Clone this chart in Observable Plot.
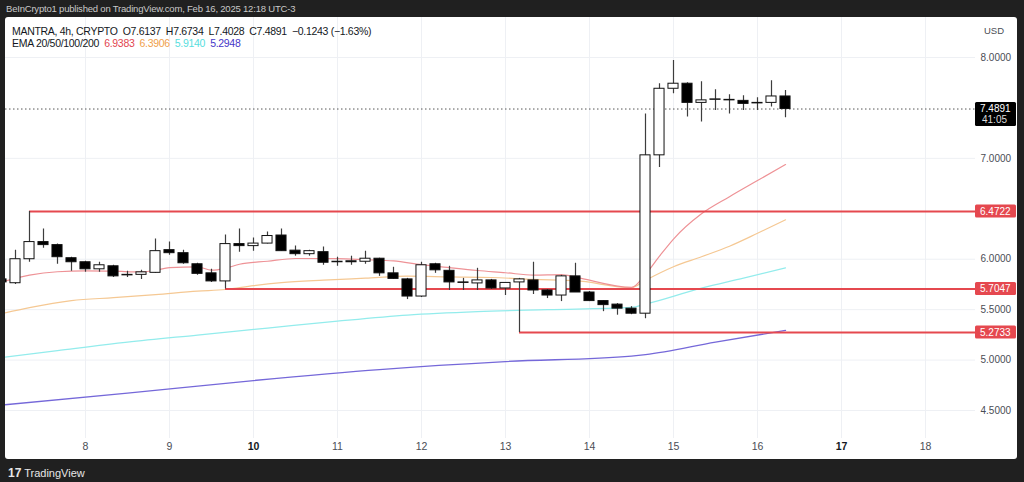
<!DOCTYPE html>
<html><head><meta charset="utf-8">
<script src="https://cdn.jsdelivr.net/npm/d3@7"></script>
<script src="https://cdn.jsdelivr.net/npm/@observablehq/plot@0.6"></script>
<style>
html,body{margin:0;padding:0;background:#202020;width:1024px;height:482px;overflow:hidden;font-family:"Liberation Sans",Arial,sans-serif;}
#top{position:absolute;left:6px;top:3px;font-size:9.5px;letter-spacing:-0.2px;color:#c9c9c9;white-space:nowrap;}
#panel{position:absolute;left:5px;top:17px;width:1012px;height:442px;background:#fff;border-radius:3px;overflow:hidden;}
#chart{position:absolute;left:0;top:0;}
#legend{position:absolute;left:7px;top:8px;font-size:10.5px;letter-spacing:-0.3px;color:#131722;line-height:12px;white-space:nowrap;}
#legend span{margin-right:5px}
#foot{position:absolute;left:8px;top:466px;color:#e6e6e6;font-size:11px;white-space:nowrap;}
</style></head><body>
<div id="top">BeInCrypto1 published on TradingView.com, Feb 16, 2025 12:18 UTC-3</div>
<div id="panel"><div id="chart"></div>
<div id="legend">
<div><span>MANTRA, 4h, CRYPTO</span><span>O7.6137</span><span>H7.6734</span><span>L7.4028</span><span>C7.4891</span><span>−0.1243 (−1.63%)</span></div>
<div><span>EMA 20/50/100/200</span><span style="color:#e2454f">6.9383</span><span style="color:#f0a04b">6.3906</span><span style="color:#57dede">5.9140</span><span style="color:#4536c8">5.2948</span></div>
</div>
</div>
<div id="foot"><b style="font-size:12px">17</b> TradingView</div>
<script>
// 4h candles, first bar = Feb 7 01:00 (UTC-3)
const candleOpen  = [5.80,5.762,6.00,6.17,6.14,6.01,5.97,5.90,5.93,5.84,5.845,5.865,6.09,6.06,5.95,5.86,5.78,6.15,6.13,6.155,6.235,6.085,6.05,6.07,5.97,5.97,5.975,6.005,5.86,5.80,5.63,5.95,5.885,5.77,5.76,5.79,5.71,5.77,5.79,5.69,5.64,5.83,5.67,5.585,5.55,5.51,5.46,7.03,7.69,7.74,7.55,7.58,7.58,7.57,7.545,7.55,7.6137];
const candleHigh  = [5.83,6.089,6.4722,6.30,6.15,6.02,5.98,5.97,5.94,5.88,5.89,6.20,6.17,6.09,5.96,5.90,6.24,6.30,6.21,6.27,6.30,6.13,6.09,6.12,6.02,6.03,6.08,6.01,5.92,5.81,5.97,5.96,5.93,5.81,5.91,5.80,5.765,5.81,5.97,5.70,5.84,5.96,5.68,5.59,5.56,5.53,7.44,7.74,7.97,7.75,7.76,7.68,7.63,7.62,7.60,7.77,7.6734];
const candleLow   = [5.75,5.75,5.97,6.11,5.95,5.88,5.87,5.87,5.82,5.82,5.80,5.86,6.04,5.95,5.84,5.77,5.7047,6.07,6.08,6.15,6.08,6.03,6.03,5.94,5.93,5.94,5.95,5.83,5.80,5.60,5.62,5.86,5.69,5.69,5.69,5.70,5.64,5.2733,5.65,5.61,5.58,5.67,5.58,5.48,5.445,5.45,5.41,6.91,7.64,7.41,7.36,7.475,7.44,7.475,7.475,7.51,7.4028];
const candleClose = [5.77,6.00,6.17,6.14,6.02,5.97,5.90,5.94,5.83,5.845,5.87,6.08,6.06,5.96,5.855,5.78,6.15,6.13,6.155,6.23,6.08,6.05,6.08,5.965,5.975,5.98,6.005,5.86,5.805,5.63,5.94,5.89,5.77,5.765,5.79,5.71,5.765,5.80,5.69,5.64,5.83,5.67,5.585,5.545,5.51,5.46,7.03,7.69,7.74,7.55,7.575,7.585,7.575,7.54,7.55,7.6137,7.4891];

// EMA values read at bar indices
const ema20Bar = [0,2,4,6,8,10,11,12,14,15,16,17,19,21,24,26,28,30,32,34,36,38,40,41,45,46,47,48,50,52,54,56];
const ema20Val = [5.772,5.842,5.876,5.884,5.881,5.874,5.891,5.916,5.924,5.891,5.911,5.95,5.98,6.007,6.005,5.995,5.983,5.946,5.916,5.888,5.866,5.842,5.847,5.822,5.72,5.85,6.03,6.20,6.45,6.62,6.78,6.9383];
const ema50Bar = [0,2,5,8,11,14,16,18,20,23,26,29,32,35,38,41,45,46,48,50,52,54,56];
const ema50Val = [5.46,5.52,5.589,5.619,5.649,5.683,5.70,5.738,5.767,5.792,5.812,5.832,5.825,5.819,5.80,5.787,5.718,5.792,5.926,6.025,6.129,6.257,6.3906];
const ema100Bar = [0,4,9,14,19,24,29,34,39,45,46,50,53,56];
const ema100Val = [5.025,5.094,5.178,5.248,5.317,5.386,5.446,5.48,5.50,5.522,5.554,5.713,5.812,5.914];
const ema200Bar = [0,9,18,27,36,45,46,51,56];
const ema200Val = [4.554,4.673,4.797,4.906,4.985,5.04,5.054,5.178,5.2948];

const levelPrice = [6.4722, 5.7047, 5.2733];
const levelStartBar = [2, 16, 37];
const lastPrice = 7.4891;
const countdown = "41:05";

const dayLabels = [8,9,10,11,12,13,14,15,16,17,18];
const boldDays = [10,17];
const firstDay = 7;
const yTicks = [4.5,5.0,5.5,6.0,7.0,8.0];

const candles = candleOpen.map((o,i)=>({i, o, h:candleHigh[i], l:candleLow[i], c:candleClose[i]}));
const mk = (bars, vals) => bars.map((b,k)=>({i:b, v:vals[k]}));
const emas = [
  {data: mk(ema200Bar, ema200Val), color:"#7568d9", w:1.3},
  {data: mk(ema100Bar, ema100Val), color:"#93ecec", w:1.2},
  {data: mk(ema50Bar, ema50Val), color:"#f5c893", w:1.2},
  {data: mk(ema20Bar, ema20Val), color:"#ee9296", w:1.2}
];
const levels = levelPrice.map((p,k)=>({p, s:levelStartBar[k]}));
const dayBar = d => (d - firstDay) * 6;

const W = 1012, H = 442, MR = 42;
const xDomain = [4/14, 974/14];
const yDomain = [4.2225, 8.3966];
const red = "#e5484f";
const FONT = "'Liberation Sans', Arial, sans-serif";

const chart = Plot.plot({
  width: W, height: H,
  marginLeft: 0, marginRight: MR, marginTop: 0, marginBottom: 21,
  x: {domain: xDomain, axis: null},
  y: {domain: yDomain, axis: null},
  style: {fontFamily: FONT, fontSize: "10px", background: "transparent", color: "#3c3f48"},
  marks: [
    Plot.ruleX(dayLabels, {x: dayBar, stroke: "#eef0f4"}),
    Plot.ruleY(yTicks, {stroke: "#eef0f4"}),
    ...emas.map(e => Plot.line(e.data, {x: "i", y: "v", stroke: e.color, strokeWidth: e.w, curve: "monotone-x"})),
    Plot.ruleY([lastPrice], {x1: xDomain[0], x2: xDomain[1], stroke: "#555", strokeDasharray: "1.5,2.5", strokeWidth: 1}),
    Plot.ruleY(levels, {y: "p", x1: "s", x2: () => xDomain[1], stroke: red, strokeWidth: 2}),
    Plot.ruleX(candles, {x: "i", y1: "l", y2: "h", stroke: "#3d3d3d", strokeWidth: 1.2}),
    Plot.rect(candles, {x1: d => d.i - 0.36, x2: d => d.i + 0.36, y1: "o", y2: "c",
      fill: d => d.c >= d.o ? "#ffffff" : "#000000", stroke: "#111", strokeWidth: 1}),
    Plot.text(dayLabels.filter(d => !boldDays.includes(d)), {x: dayBar, text: d => String(d), frameAnchor: "bottom", dy: 11, fill: "#4a4d55", fontSize: 10.5}),
    Plot.text(boldDays, {x: dayBar, text: d => String(d), frameAnchor: "bottom", dy: 11, fill: "#131722", fontSize: 10.5, fontWeight: 700}),
    Plot.axisY(yTicks, {anchor: "right", tickSize: 0, tickPadding: 5, tickFormat: d3.format(".4f"), label: null, fill: "#4a4d55", fontSize: 10})
  ]
});
document.getElementById("chart").appendChild(chart);

// price-axis labels positioned with the chart's y scale
const ys = chart.scale("y");
const svg = d3.select(chart);
const g = svg.append("g").attr("font-family", FONT).attr("font-size", 10).attr("text-anchor", "start");
levels.forEach(l => {
  const y = ys.apply(l.p);
  g.append("rect").attr("x", W - MR).attr("y", y - 6.5).attr("width", 41).attr("height", 13).attr("rx", 1.5).attr("fill", red);
  g.append("text").attr("x", W - MR + 5).attr("y", y).attr("dy", "0.35em").attr("fill", "#fff").text(l.p.toFixed(4));
});
{
  const y = ys.apply(lastPrice);
  g.append("rect").attr("x", W - MR).attr("y", y - 6.5).attr("width", 41).attr("height", 24).attr("rx", 1.5).attr("fill", "#000");
  g.append("text").attr("x", W - MR + 5).attr("y", y).attr("dy", "0.35em").attr("fill", "#fff").text(lastPrice.toFixed(4));
  g.append("text").attr("x", W - MR + 7).attr("y", y + 11).attr("dy", "0.35em").attr("fill", "#ddd").text(countdown);
}
g.append("text").attr("x", W - MR + 9).attr("y", 14).attr("dy", "0.35em").attr("fill", "#4a4d55").attr("font-size", 9.5).text("USD");
</script>
</body></html>
